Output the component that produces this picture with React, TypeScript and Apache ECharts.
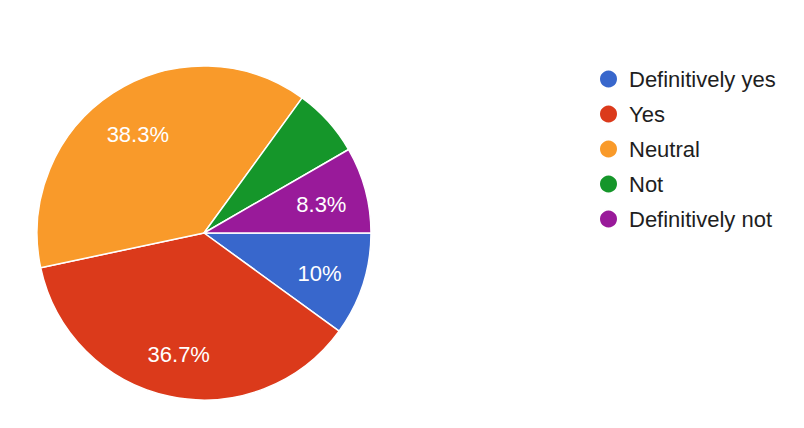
import React, { useEffect, useRef } from "react";
import * as echarts from "echarts";

const categories = ["Definitively yes", "Yes", "Neutral", "Not", "Definitively not"];
const counts = [6, 22, 23, 4, 5];
const colors = ["#3867cc", "#db3a1b", "#f99a2a", "#15962a", "#991a9a"];

const FONT = "'Liberation Sans', Arial, Helvetica, sans-serif";

export default function App() {
  const ref = useRef<HTMLDivElement>(null);
  useEffect(() => {
    if (!ref.current) return;
    const chart = echarts.init(ref.current, null, { renderer: "svg" });
    const data = categories.map((name, i) => ({ name, value: counts[i] }));
    chart.setOption({
      animation: false,
      backgroundColor: "#ffffff",
      color: colors,
      legend: {
        orient: "vertical",
        left: 598,
        top: 68,
        padding: 0,
        icon: "circle",
        itemWidth: 19,
        itemHeight: 19,
        itemGap: 13,
        data: categories,
        textStyle: {
          fontFamily: FONT,
          fontSize: 22,
          lineHeight: 21,
          color: "#1e1e1e",
          padding: [0, 0, 0, 6],
        },
      },
      series: [
        {
          type: "pie",
          name: "slices",
          center: [204, 233],
          radius: [0, 167],
          startAngle: 0,
          clockwise: true,
          label: { show: false },
          labelLine: { show: false },
          itemStyle: { borderColor: "#ffffff", borderWidth: 1.5 },
          emphasis: { disabled: true },
          data,
        },
        {
          type: "pie",
          name: "labels",
          center: [204, 236],
          radius: [70, 167],
          startAngle: 0,
          clockwise: true,
          silent: true,
          percentPrecision: 1,
          minShowLabelAngle: 25,
          itemStyle: { color: "rgba(0,0,0,0)", borderWidth: 0 },
          label: {
            show: true,
            position: "inside",
            formatter: (p: any) => `${p.percent}%`,
            color: "#ffffff",
            fontFamily: FONT,
            fontSize: 22,
          },
          labelLine: { show: false },
          emphasis: { disabled: true },
          data,
        },
      ],
    });
    return () => chart.dispose();
  }, []);
  return (
    <div
      ref={ref}
      style={{ position: "fixed", left: 0, top: 0, width: 804, height: 428 }}
    />
  );
}
